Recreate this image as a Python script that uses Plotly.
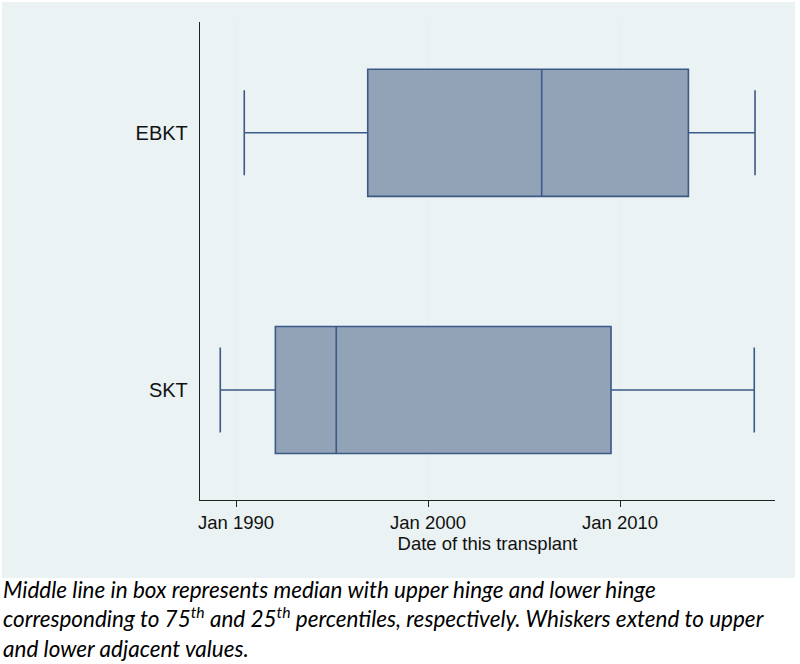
import plotly.graph_objects as go

# Data (decimal years)
groups = ["SKT", "EBKT"]
lower_adj = [1989.18, 1990.43]
q1 = [1992.05, 1996.86]
median = [1995.22, 2005.92]
q3 = [2009.53, 2013.56]
upper_adj = [2016.99, 2017.03]

tick_vals = [1990, 2000, 2010]
tick_text = ["Jan 1990", "Jan 2000", "Jan 2010"]

x_title = "Date of this transplant"
caption = ("Middle line in box represents median with upper hinge and lower hinge<br>"
           "corresponding to 75<sup>th</sup> and 25<sup>th</sup> percentiles, respectively. Whiskers extend to upper<br>"
           "and lower adjacent values.")

W, H = 800, 664
L, R, T, B = 200, 25, 22, 164
pw, ph = W - L - R, H - T - B

def px_x(px):
    return (px - L) / pw

def px_y(py):
    return (H - B - py) / ph

fig = go.Figure()
fig.add_trace(go.Box(
    y=groups,
    q1=q1, median=median, q3=q3,
    lowerfence=lower_adj, upperfence=upper_adj,
    orientation="h",
    fillcolor="#92A3B8",
    line=dict(color="#3B5A87", width=1.6),
    width=0.494,
    whiskerwidth=0.67,
    boxpoints=False,
    hoverinfo="skip",
    showlegend=False,
))

fig.update_layout(
    width=W, height=H,
    margin=dict(l=L, r=R, t=T, b=B, autoexpand=False),
    paper_bgcolor="white",
    plot_bgcolor="white",
    font=dict(family="Liberation Sans, Arial, sans-serif", size=18.5, color="#111"),
    shapes=[dict(type="rect", xref="paper", yref="paper",
                 x0=px_x(2), x1=px_x(795), y0=px_y(578), y1=px_y(2),
                 fillcolor="#EAF2F3", line=dict(width=0), layer="below")],
    annotations=[dict(text=caption, xref="paper", yref="paper",
                      x=px_x(1), y=px_y(574), xanchor="left", yanchor="top",
                      align="left", showarrow=False,
                      font=dict(family="Lato, Carlito, sans-serif", size=22.5, color="#000", style="italic"))],
)

fig.update_xaxes(
    range=[1988.125, 2018.07],
    tickvals=tick_vals, ticktext=tick_text,
    showgrid=True, gridcolor="#E4EDEF", gridwidth=1,
    showline=True, linecolor="#222", linewidth=1.3,
    ticks="outside", ticklen=6, tickcolor="#222", tickwidth=1.3,
    zeroline=False,
    title=dict(text=x_title, standoff=4, font=dict(size=18.5)),
)
fig.update_yaxes(
    type="category", categoryorder="array", categoryarray=groups,
    range=[-0.428, 1.431],
    showgrid=False, zeroline=False,
    showline=True, linecolor="#222", linewidth=1.3,
    ticks="", ticklabelstandoff=7,
    tickfont=dict(size=20),
)

fig.write_html("out.html", config={"displayModeBar": False},
               post_script="document.body.style.margin='0';document.body.style.overflow='hidden';")
